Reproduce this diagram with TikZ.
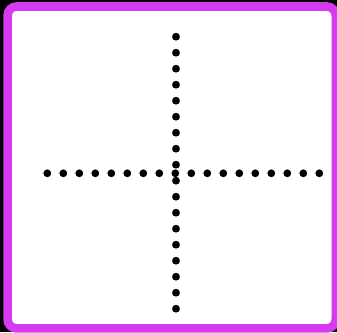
\documentclass[tikz,border=0pt]{standalone}
\definecolor{framemag}{RGB}{214,58,240}
\tikzset{
  dotmark/.style={fill=black},
  frame/.style={draw=framemag, line width=8.6pt, fill=white, rounded corners=9pt}
}
\begin{document}
\begin{tikzpicture}[x=1pt,y=1pt]
  \fill[black] (0,0) rectangle (337,332);
  \useasboundingbox (0,0) rectangle (337,332);
  \draw[frame] (7.6,3.6) rectangle (335.8,325.5);
  % vertical column of dots
  \foreach \k in {0,...,17}
    \fill[dotmark] (176,{332-36.7-16*\k}) circle (3.9);
  % horizontal row of dots
  \foreach \k in {0,...,17}
    \fill[dotmark] ({47.3+16*\k},{332-173.3}) circle (3.9);
\end{tikzpicture}
\end{document}
